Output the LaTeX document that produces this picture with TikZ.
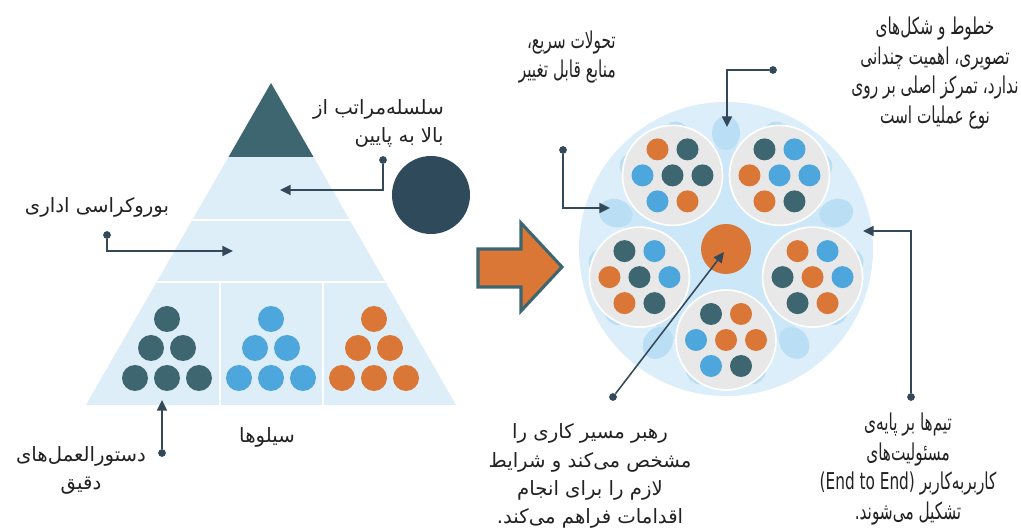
\documentclass[tikz,border=0pt]{standalone}
\usepackage{fontspec}
\usepackage{xcolor}
\usetikzlibrary{arrows.meta}
\newfontfamily\fa[Script=Arabic]{DejaVu Sans}
\newfontfamily\fanar[Script=Arabic, FakeStretch=0.66]{DejaVu Sans}
\TeXXeTstate=1

\definecolor{tealdk}{HTML}{3D6670}
\definecolor{navydk}{HTML}{2E4A5B}
\definecolor{linec}{HTML}{33495A}
\definecolor{skyfill}{HTML}{DDEEF8}
\definecolor{bluedot}{HTML}{4DA6DC}
\definecolor{orng}{HTML}{DA7636}
\definecolor{ringlt}{HTML}{DBEEF9}
\definecolor{ringmd}{HTML}{CCE7F7}
\definecolor{blobc}{HTML}{BADEF3}
\definecolor{greyc}{HTML}{E8E8E8}
\definecolor{txtc}{HTML}{222222}

\tikzset{
  lbl/.style={font=\fa\fontsize{14}{20}\selectfont, text=txtc, align=center, inner sep=0pt},
  lblnar/.style={lbl, font=\fanar\fontsize{16.5}{21.3}\selectfont},
  endpt/.style={circle, fill=linec, inner sep=0pt, minimum size=5.5pt},
  lead/.style={draw=linec, line width=1.4pt, -{Triangle[length=7.5pt,width=7pt]}},
}

\begin{document}
\begin{tikzpicture}[x=0.025cm, y=-0.025cm]
        \useasboundingbox (0,0) rectangle (1021,530);
        \fill[white] (0,0) rectangle (1021,530);

        % pyramid
        \fill[skyfill] (271,83) -- (456,405) -- (86,405) -- cycle;
        \fill[tealdk] (271,83) -- (313.5,157) -- (228.5,157) -- cycle;
        \draw[white, line width=1.2pt] (192.3,220) -- (349.7,220);
        \draw[white, line width=1.2pt] (156.7,282) -- (385.3,282);
        \draw[white, line width=1.2pt] (220,282) -- (220,405);
        \draw[white, line width=1.2pt] (323,282) -- (323,405);

        \foreach \mx/\col in {167/tealdk, 271/bluedot, 374/orng} {
            \fill[\col] (\mx,319) circle (13);
            \fill[\col] (\mx-16,348) circle (13) (\mx+16,348) circle (13);
            \fill[\col] (\mx-32,378) circle (13) (\mx,378) circle (13) (\mx+32,378) circle (13);
        }

        \fill[navydk] (431,195) circle (39);

        % big arrow
        \filldraw[fill=orng, draw=tealdk, line width=2.2pt, line join=miter]
            (478,249) -- (521,249) -- (521,223) -- (562,267) -- (521,311) -- (521,287) -- (478,287) -- cycle;

        % team circle
        \fill[ringlt] (726,249) circle (147);
        \fill[ringmd] (726,249) circle (104);
        \begin{scope}[shift={(726,249)}, y=0.025cm]
            \foreach \g in {90, 18, -54, -126, 162} {
                \fill[blobc, rotate around={\g:(0,0)}] (116,0) ellipse (17 and 14);
                \fill[blobc] (\g+24:124) circle (14);
                \fill[blobc] (\g-24:124) circle (14);
            }
            \foreach \a/\ca/\cb/\cc/\cd/\ce/\cf/\cg in {
                126/orng/tealdk/bluedot/tealdk/tealdk/bluedot/orng,
                54/tealdk/bluedot/orng/bluedot/bluedot/orng/tealdk,
                198/tealdk/bluedot/orng/tealdk/bluedot/orng/tealdk,
                -18/orng/bluedot/tealdk/orng/bluedot/tealdk/orng,
                -90/tealdk/orng/bluedot/orng/orng/bluedot/tealdk} {
                \begin{scope}[shift={(\a:91)}]
                    \filldraw[fill=greyc, draw=white, line width=1.2pt] (0,0) circle (50);
                    \fill[\ca] (-15,26) circle (11);
                    \fill[\cb] (15,26) circle (11);
                    \fill[\cc] (-30,0) circle (11);
                    \fill[\cd] (0,0) circle (11);
                    \fill[\ce] (30,0) circle (11);
                    \fill[\cf] (-15,-26) circle (11);
                    \fill[\cg] (15,-26) circle (11);
                \end{scope}
            }
            \fill[orng] (0,0) circle (25);
        \end{scope}

        % labels
        \node[lbl, anchor=east, align=right] (hier) at (444,123)
            {\beginR سلسله^^^^200cمراتب از\endR\\\beginR بالا به پایین\endR};
        \node[lbl] (bureau) at (97,207) {\beginR بوروکراسی اداری\endR};
        \node[lbl] (rules) at (81,470)
            {\beginR دستورالعمل^^^^200cهای\endR\\\beginR دقیق\endR};
        \node[lbl] (silo) at (267,437) {\beginR سیلوها\endR};
        \node[lblnar, anchor=east, align=right] (change) at (616,57)
            {\beginR تحولات سریع،\endR\\\beginR منابع قابل تغییر\endR};
        \node[lblnar] (shape) at (935,73)
            {\beginR خطوط و شکل^^^^200cهای\endR\\\beginR تصویری، اهمیت چندانی\endR\\
             \beginR ندارد، تمرکز اصلی بر روی\endR\\\beginR نوع عملیات است\endR};
        \node[lbl] (leader) at (590,476)
            {\beginR رهبر مسیر کاری را\endR\\\beginR مشخص می^^^^200cکند و شرایط\endR\\
             \beginR لازم را برای انجام\endR\\\beginR اقدامات فراهم می^^^^200cکند.\endR};
        \node[lblnar] (teams) at (908,469)
            {\beginR تیم^^^^200cها بر پایه^^^^200cی\endR\\\beginR مسئولیت^^^^200cهای\endR\\
             \beginR کاربربه^^^^200cکاربر {\beginL(End to End)\endL}\endR\\\beginR تشکیل می^^^^200cشوند.\endR};

        % connectors
        \node[endpt] (p1) at (383,160) {};
        \coordinate (q1) at (280,190);
        \draw[lead] (p1) |- (q1);

        \node[endpt] (p2) at (107,235) {};
        \coordinate (q2) at (233,251);
        \draw[lead] (p2) |- (q2);

        \node[endpt] (p3) at (162,453) {};
        \coordinate (q3) at (162,400);
        \draw[lead] (p3) -- (q3);

        \node[endpt] (p4) at (563,150) {};
        \coordinate (q4) at (610,208);
        \draw[lead] (p4) |- (q4);

        \node[endpt] (p5) at (773,70) {};
        \coordinate (q5) at (727,127);
        \draw[lead] (p5) -| (q5);

        \node[endpt] (p6) at (911,397) {};
        \coordinate (q6) at (863,231);
        \draw[lead] (p6) |- (q6);

        \node[endpt] (p7) at (613,397) {};
        \coordinate (q7) at (724,252);
        \draw[lead, line width=1.1pt] (p7) -- (q7);
    \end{tikzpicture}
\end{document}
